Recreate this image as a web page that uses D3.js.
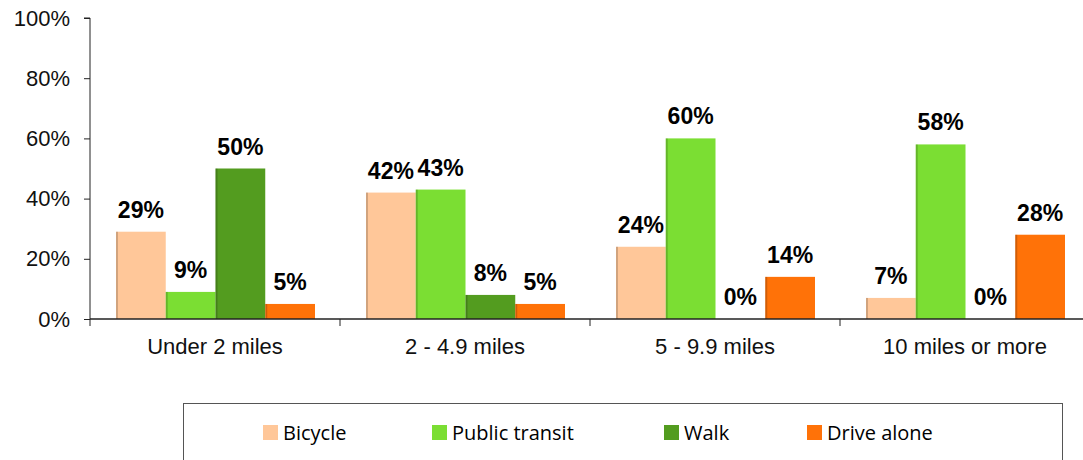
<!DOCTYPE html>
<meta charset="utf-8">
<style>
body { margin: 0; background: #fff; }
.tick text { font-family: "Liberation Sans", Arial, sans-serif; font-size: 22px; fill: #111; }
.barlabel { font-family: "Liberation Sans", Arial, sans-serif; font-size: 23px; font-weight: bold; fill: #000; }
.legend text { font-family: "Open Sans", sans-serif; font-size: 20px; fill: #000; }
</style>
<body>
<script src="https://d3js.org/d3.v7.min.js"></script>
<script>

// categories and series
var categories = ["Under 2 miles", "2 - 4.9 miles", "5 - 9.9 miles", "10 miles or more"];
var seriesNames = ["Bicycle", "Public transit", "Walk", "Drive alone"];
var bicycle = [29, 42, 24, 7];
var transit = [9, 43, 60, 58];
var walk = [50, 8, 0, 0];
var driveAlone = [5, 5, 14, 28];
var yTicks = [0, 20, 40, 60, 80, 100];
var colors = ["#FFC799", "#7BDE33", "#539C1F", "#FF7208"];

var values = [bicycle, transit, walk, driveAlone];

var margin = {top: 18, left: 90},
    width = 1000,
    height = 301;

var svg = d3.select("body").append("svg")
    .attr("width", 1083)
    .attr("height", 460);

var g = svg.append("g")
    .attr("transform", "translate(" + margin.left + "," + margin.top + ")");

// scales
var x0 = d3.scaleBand().domain(categories).range([0, width]);
var x1 = d3.scaleBand().domain(seriesNames).range([26, 225]);
var y = d3.scaleLinear().domain([0, 100]).range([height, 0]);

// bars
var groups = g.selectAll(".grp")
    .data(categories)
  .enter().append("g")
    .attr("class", "grp")
    .attr("transform", function(d) { return "translate(" + x0(d) + ",0)"; });

groups.each(function(c, ci) {
  var grp = d3.select(this);
  seriesNames.forEach(function(s, si) {
    var v = values[si][ci];
    grp.append("rect")
        .attr("x", x1(s))
        .attr("y", y(v))
        .attr("width", x1.bandwidth())
        .attr("height", height - y(v))
        .style("fill", colors[si]);
    // slight shade on left edge
    if (v > 0) {
      grp.append("rect")
          .attr("x", x1(s))
          .attr("y", y(v))
          .attr("width", 2)
          .attr("height", height - y(v))
          .style("fill", "#000")
          .style("opacity", 0.18);
    }
    grp.append("text")
        .attr("class", "barlabel")
        .attr("x", x1(s) + x1.bandwidth() / 2)
        .attr("y", y(v) - 14)
        .attr("text-anchor", "middle")
        .text(v + "%");
  });
});

// y axis
var yAxis = g.append("g")
    .call(d3.axisLeft(y).tickValues(yTicks).tickSize(6).tickPadding(14)
      .tickFormat(function(d) { return d + "%"; }));
yAxis.selectAll("line, path").attr("stroke", "#222");
yAxis.select(".domain").attr("d", "M0," + height + "V0H-6");

// x axis
var xAxis = g.append("g")
    .attr("transform", "translate(0," + height + ")")
    .call(d3.axisBottom(x0).tickSize(0).tickPadding(19));
xAxis.selectAll("line, path").attr("stroke", "#222");
xAxis.select(".domain").attr("stroke-width", 1.5).attr("d", "M0,0H" + width);
xAxis.selectAll(".tick text").attr("dy", "0.71em");
xAxis.selectAll(".sep")
    .data(categories)
  .enter().append("line")
    .attr("x1", function(d) { return x0(d); })
    .attr("x2", function(d) { return x0(d); })
    .attr("y1", 0)
    .attr("y2", 7)
    .attr("stroke", "#222");

// legend
var legend = svg.append("g").attr("class", "legend");
legend.append("rect")
    .attr("x", 183.5)
    .attr("y", 403.5)
    .attr("width", 879)
    .attr("height", 70)
    .style("fill", "none")
    .style("stroke", "#555");

var legendX = [263, 432, 664, 807];
seriesNames.forEach(function(s, i) {
  legend.append("rect")
      .attr("x", legendX[i])
      .attr("y", 425)
      .attr("width", 15)
      .attr("height", 15)
      .style("fill", colors[i]);
  legend.append("text")
      .attr("x", legendX[i] + 20)
      .attr("y", 440)
      .text(s);
});

</script>
</body>
